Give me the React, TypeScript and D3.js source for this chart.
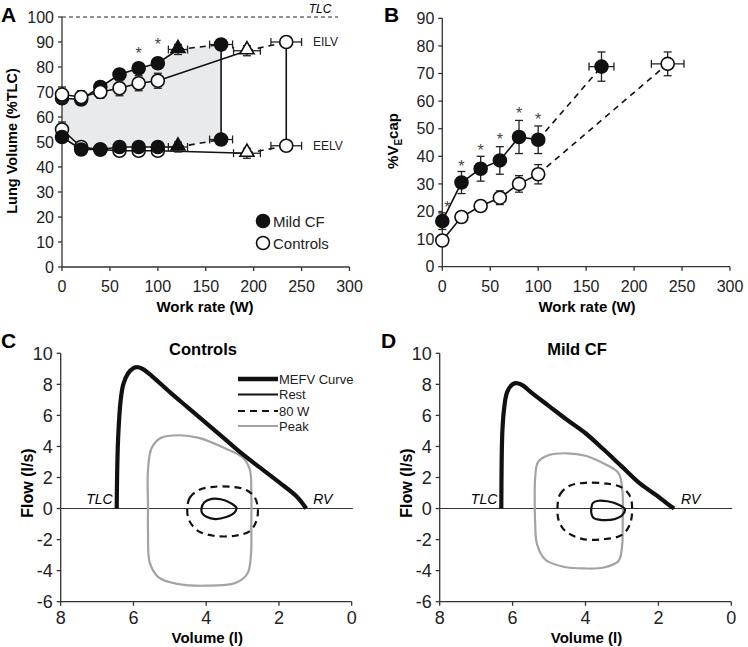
import React from 'react';
import * as d3 from 'd3';

const FONT = '"Liberation Sans", Arial, Helvetica, sans-serif';
const AX = '#333';

// ---------- Panel A data ----------
const workRates = [0, 20, 40, 60, 80, 100];
const cfEILV = [67.5, 67, 72, 77, 79.5, 81.5];
const cfEILVErr = [1.5, 1.5, 1.5, 1.5, 2, 2];
const cfEELV = [52, 47, 47, 48, 48, 48];
const cfEELVErr = [1.5, 1, 1, 1.5, 1.5, 1.5];
const ctlEILV = [69, 68, 70, 71.5, 73.5, 74.5];
const ctlEILVErr = [3, 2.5, 2.5, 3, 3, 3];
const ctlEELV = [55, 48, 47, 46.5, 46.5, 46.5];
const ctlEELVErr = [3, 1.5, 1.5, 1.5, 1.5, 1.5];
const cfTriW = [121, 10];
const cfTriVol = [87, 48];
const ctlTriW = [193, 14];
const ctlTriVol = [86.5, 45.5];
const cfPeakW = [166, 12];
const cfPeakVol = [89, 51];
const ctlPeakW = [234, 16];
const ctlPeakVol = [90, 48.5];
const aStars = [[80, 86], [100, 89.5]];
const aYTicks = d3.range(0, 101, 10);
const aXTicks = d3.range(0, 301, 50);

// ---------- Panel B data ----------
const cfVEcap = [16.5, 30.5, 35.5, 38.5, 47, 46];
const cfVEcapErr = [3, 4, 4.5, 5, 6, 5];
const ctlVEcap = [9.5, 18, 22, 25, 30, 33.5];
const ctlVEcapErr = [1, 1.5, 1.5, 2.5, 3, 3.5];
const cfVEcapPeak = [166, 13, 72.5, 5.3];
const ctlVEcapPeak = [235, 17, 73.5, 4.3];
const bStarY = [22, 37, 42.5, 46.5, 56, 54];
const bYTicks = d3.range(0, 91, 10);

// ---------- Panels C/D data (volume l, flow l/s) ----------
const ctlMEFV = [[6.46, 0], [6.45, 2], [6.43, 4], [6.4, 5.5], [6.35, 7], [6.28, 8], [6.15, 8.7], [6.0, 9.05], [5.87, 9.1], [5.75, 9.0], [5.5, 8.55], [5, 7.5], [4.5, 6.5], [4, 5.5], [3.5, 4.5], [3, 3.5], [2.5, 2.6], [2, 1.7], [1.5, 0.75], [1.25, 0]];
const ctlRest = [[4.13, 0], [4.05, 0.4], [3.85, 0.62], [3.6, 0.6], [3.35, 0.38], [3.17, 0.05], [3.22, -0.25], [3.45, -0.55], [3.75, -0.68], [3.98, -0.55], [4.11, -0.3]];
const ctl80W = [[4.52, 0], [4.45, 0.7], [4.2, 1.2], [3.8, 1.4], [3.3, 1.4], [2.9, 1.2], [2.66, 0.7], [2.58, 0], [2.62, -0.8], [2.8, -1.45], [3.2, -1.75], [3.8, -1.75], [4.25, -1.4], [4.48, -0.7]];
const ctlPeak = [[5.6, 0], [5.6, 2.5], [5.5, 3.9], [5.25, 4.55], [4.75, 4.72], [4.2, 4.55], [3.5, 3.9], [3.0, 3.3], [2.8, 2.5], [2.76, 1], [2.76, -1], [2.77, -3], [2.87, -4.2], [3.2, -4.8], [4.0, -4.97], [4.8, -4.85], [5.3, -4.45], [5.55, -3.5], [5.6, -1.5]];
const cfMEFV = [[6.31, 0], [6.3, 3], [6.28, 5], [6.23, 6.5], [6.15, 7.5], [6.0, 8.0], [5.87, 8.07], [5.7, 7.9], [5.5, 7.5], [5, 6.6], [4.5, 5.7], [4, 4.85], [3.5, 3.8], [3, 2.7], [2.5, 1.6], [2, 0.76], [1.75, 0.3], [1.57, 0]];
const cfRest = [[3.84, 0], [3.8, 0.35], [3.65, 0.5], [3.4, 0.47], [3.12, 0.28], [2.92, -0.05], [3.0, -0.45], [3.2, -0.68], [3.55, -0.74], [3.78, -0.6], [3.84, -0.3]];
const cf80W = [[4.77, 0], [4.7, 0.9], [4.45, 1.45], [4.0, 1.66], [3.4, 1.6], [3.0, 1.35], [2.78, 0.8], [2.72, 0], [2.78, -1.0], [3.0, -1.7], [3.5, -1.97], [4.1, -1.95], [4.55, -1.45], [4.73, -0.8]];
const cfPeak = [[5.39, 0], [5.38, 2.0], [5.3, 3.0], [5.0, 3.45], [4.5, 3.56], [4.0, 3.4], [3.5, 2.9], [3.1, 2.3], [2.99, 1.2], [2.98, -1], [3.0, -2.5], [3.1, -3.4], [3.5, -3.8], [4.0, -3.86], [4.6, -3.75], [5.1, -3.3], [5.33, -2.3], [5.38, -1]];
const flowTicks = d3.range(-6, 11, 2);
const volTicks = [8, 6, 4, 2, 0];
const legendItems = ['MEFV Curve', 'Rest', '80 W', 'Peak'];

function VBar({ x, y1, y2, cap = 4 }) {
  return (
    <g stroke="#222" strokeWidth={1.3}>
      <line x1={x} x2={x} y1={y1} y2={y2} />
      <line x1={x - cap} x2={x + cap} y1={y1} y2={y1} />
      <line x1={x - cap} x2={x + cap} y1={y2} y2={y2} />
    </g>
  );
}
function HBar({ y, x1, x2, cap = 4 }) {
  return (
    <g stroke="#222" strokeWidth={1.3}>
      <line x1={x1} x2={x2} y1={y} y2={y} />
      <line x1={x1} x2={x1} y1={y - cap} y2={y + cap} />
      <line x1={x2} x2={x2} y1={y - cap} y2={y + cap} />
    </g>
  );
}

function Axes({ x, y, xTicks, yTicks, fs, xLabelY }) {
  const [x0, x1] = x.range();
  const [y0, y1] = y.range();
  return (
    <g fontFamily={FONT} fontSize={fs} fill="#222">
      <line x1={x0} x2={x0} y1={y0} y2={y1} stroke={AX} strokeWidth={1.3} />
      <line x1={x0} x2={x1} y1={y0} y2={y0} stroke={AX} strokeWidth={1.3} />
      {yTicks.map((t) => (
        <g key={'y' + t}>
          <line x1={x0 - 4} x2={x0} y1={y(t)} y2={y(t)} stroke={AX} strokeWidth={1.3} />
          <text x={x0 - 8} y={y(t) + fs * 0.36} textAnchor="end">{t}</text>
        </g>
      ))}
      {xTicks.map((t) => (
        <g key={'x' + t}>
          <line x1={x(t)} x2={x(t)} y1={y0} y2={y0 + 4} stroke={AX} strokeWidth={1.3} />
          <text x={x(t)} y={xLabelY} textAnchor="middle">{t}</text>
        </g>
      ))}
    </g>
  );
}

function PanelA() {
  const x = d3.scaleLinear().domain([0, 300]).range([62, 349.5]);
  const y = d3.scaleLinear().domain([0, 100]).range([267, 17]);
  const line = d3.line().x((d) => x(d[0])).y((d) => y(d[1]));
  const shade = [
    ...workRates.map((w, i) => [w, cfEILV[i]]),
    [cfTriW[0], cfTriVol[0]],
    [cfPeakW[0], cfPeakVol[0]],
    [cfPeakW[0], cfPeakVol[1]],
    [cfTriW[0], cfTriVol[1]],
    ...workRates.map((w, i) => [w, cfEELV[i]]).reverse(),
  ];
  const tri = d3.symbol(d3.symbolTriangle, 85)();
  const r = 6.5;
  const series = [
    { v: cfEILV, e: cfEILVErr, tri: [cfTriW, cfTriVol[0]], pk: [cfPeakW, cfPeakVol[0]], fill: '#111' },
    { v: ctlEILV, e: ctlEILVErr, tri: [ctlTriW, ctlTriVol[0]], pk: [ctlPeakW, ctlPeakVol[0]], fill: '#fff' },
    { v: ctlEELV, e: ctlEELVErr, tri: [ctlTriW, ctlTriVol[1]], pk: [ctlPeakW, ctlPeakVol[1]], fill: '#fff' },
    { v: cfEELV, e: cfEELVErr, tri: [cfTriW, cfTriVol[1]], pk: [cfPeakW, cfPeakVol[1]], fill: '#111' },
  ];
  return (
    <g>
      <path d={line(shade) + 'Z'} fill="#e9eaec" stroke="none" />
      <line x1={x(0)} x2={338} y1={y(100)} y2={y(100)} stroke="#222" strokeWidth={1} strokeDasharray="4,3" />
      <text x={320} y={13} fontFamily={FONT} fontStyle="italic" fontSize={12} textAnchor="middle">TLC</text>
      <Axes x={x} y={y} xTicks={aXTicks} yTicks={aYTicks} fs={16} xLabelY={292} />
      {series.map((s, k) => {
        const pts = workRates.map((w, i) => [w, s.v[i]]);
        const triP = [s.tri[0][0], s.tri[1]];
        const pkP = [s.pk[0][0], s.pk[1]];
        return (
          <g key={'l' + k} fill="none" stroke="#111" strokeWidth={1.6}>
            <path d={line([...pts, triP])} />
            <path d={line([triP, pkP])} strokeDasharray="6,5" />
          </g>
        );
      })}
      <line x1={x(cfPeakW[0])} x2={x(cfPeakW[0])} y1={y(cfPeakVol[0])} y2={y(cfPeakVol[1])} stroke="#111" strokeWidth={1.6} />
      <line x1={x(ctlPeakW[0])} x2={x(ctlPeakW[0])} y1={y(ctlPeakVol[0])} y2={y(ctlPeakVol[1])} stroke="#111" strokeWidth={1.6} />
      {series.map((s, k) => (
        <g key={'m' + k}>
          {workRates.map((w, i) => (
            <g key={i}>
              <VBar x={x(w)} y1={y(s.v[i] + s.e[i])} y2={y(s.v[i] - s.e[i])} />
              <circle cx={x(w)} cy={y(s.v[i])} r={r} fill={s.fill} stroke="#111" strokeWidth={1.6} />
            </g>
          ))}
          <HBar y={y(s.tri[1])} x1={x(s.tri[0][0] - s.tri[0][1])} x2={x(s.tri[0][0] + s.tri[0][1])} />
          <VBar x={x(s.tri[0][0])} y1={y(s.tri[1] + 2)} y2={y(s.tri[1] - 2)} />
          <path d={tri} transform={`translate(${x(s.tri[0][0])},${y(s.tri[1]) - 1})`} fill={s.fill} stroke="#111" strokeWidth={1.6} />
          <HBar y={y(s.pk[1])} x1={x(s.pk[0][0] - s.pk[0][1])} x2={x(s.pk[0][0] + s.pk[0][1])} />
          <VBar x={x(s.pk[0][0])} y1={y(s.pk[1] + 2)} y2={y(s.pk[1] - 2)} />
          <circle cx={x(s.pk[0][0])} cy={y(s.pk[1])} r={r} fill={s.fill} stroke="#111" strokeWidth={1.6} />
        </g>
      ))}
      {aStars.map((s, i) => (
        <text key={i} x={x(s[0])} y={y(s[1]) + 7} fontFamily={FONT} fontSize={16} fill="#444" textAnchor="middle">*</text>
      ))}
      <g fontFamily={FONT} fontSize={12} fill="#222">
        <text x={313} y={y(ctlPeakVol[0]) + 4}>EILV</text>
        <text x={313} y={y(ctlPeakVol[1]) + 4}>EELV</text>
      </g>
      <circle cx={263} cy={221} r={r} fill="#111" stroke="#111" strokeWidth={1.6} />
      <circle cx={263} cy={243} r={r} fill="#fff" stroke="#111" strokeWidth={1.6} />
      <g fontFamily={FONT} fontSize={15} fill="#222">
        <text x={273} y={226.5}>Mild CF</text>
        <text x={273} y={248.5}>Controls</text>
      </g>
      <text x={205} y={312} fontFamily={FONT} fontSize={15} fontWeight="bold" textAnchor="middle">Work rate (W)</text>
      <text transform="translate(17,141) rotate(-90)" fontFamily={FONT} fontSize={14.5} fontWeight="bold" textAnchor="middle">Lung Volume (%TLC)</text>
      <text x={1} y={22} fontFamily={FONT} fontSize={21} fontWeight="bold">A</text>
    </g>
  );
}

function PanelB() {
  const x = d3.scaleLinear().domain([0, 300]).range([442.3, 730]);
  const y = d3.scaleLinear().domain([0, 90]).range([266.7, 18.3]);
  const line = d3.line().x((d) => x(d[0])).y((d) => y(d[1]));
  const r = 6.5;
  const groups = [
    { v: ctlVEcap, e: ctlVEcapErr, pk: ctlVEcapPeak, fill: '#fff' },
    { v: cfVEcap, e: cfVEcapErr, pk: cfVEcapPeak, fill: '#111' },
  ];
  return (
    <g>
      <Axes x={x} y={y} xTicks={aXTicks} yTicks={bYTicks} fs={16} xLabelY={292} />
      {groups.map((g, k) => {
        const pts = workRates.map((w, i) => [w, g.v[i]]);
        return (
          <g key={k}>
            <path d={line(pts)} fill="none" stroke="#111" strokeWidth={1.6} />
            <path d={line([pts[pts.length - 1], [g.pk[0], g.pk[2]]])} fill="none" stroke="#111" strokeWidth={1.6} strokeDasharray="6,5" />
            {workRates.map((w, i) => (
              <g key={i}>
                <VBar x={x(w)} y1={y(g.v[i] + g.e[i])} y2={y(g.v[i] - g.e[i])} />
                <circle cx={x(w)} cy={y(g.v[i])} r={r} fill={g.fill} stroke="#111" strokeWidth={1.6} />
              </g>
            ))}
            <HBar y={y(g.pk[2])} x1={x(g.pk[0] - g.pk[1])} x2={x(g.pk[0] + g.pk[1])} />
            <VBar x={x(g.pk[0])} y1={y(g.pk[2] + g.pk[3])} y2={y(g.pk[2] - g.pk[3])} />
            <circle cx={x(g.pk[0])} cy={y(g.pk[2])} r={r} fill={g.fill} stroke="#111" strokeWidth={1.6} />
          </g>
        );
      })}
      {workRates.map((w, i) => (
        <text key={i} x={x(w) + (i === 0 ? 5 : 0)} y={y(bStarY[i]) + 7} fontFamily={FONT} fontSize={16} fill="#444" textAnchor="middle">*</text>
      ))}
      <text x={587} y={312} fontFamily={FONT} fontSize={15} fontWeight="bold" textAnchor="middle">Work rate (W)</text>
      <text transform="translate(398,141) rotate(-90)" fontFamily={FONT} fontSize={15} fontWeight="bold" textAnchor="middle">
        %V<tspan fontSize={10} dy={4}>E</tspan><tspan dy={-4}>cap</tspan>
      </text>
      <text x={384} y={22} fontFamily={FONT} fontSize={21} fontWeight="bold">B</text>
    </g>
  );
}

function FlowPanel({ left, right, mefv, rest, w80, peak, title, letter, ox }) {
  const x = d3.scaleLinear().domain([8, 0]).range([left, right]);
  const y = d3.scaleLinear().domain([-6, 10]).range([601.7, 353.3]);
  const open = d3.line().x((d) => x(d[0])).y((d) => y(d[1])).curve(d3.curveCatmullRom.alpha(0.5));
  const closed = d3.line().x((d) => x(d[0])).y((d) => y(d[1])).curve(d3.curveCatmullRomClosed.alpha(0.5));
  return (
    <g>
      <Axes x={x} y={y} xTicks={volTicks} yTicks={flowTicks} fs={18} xLabelY={624} />
      <line x1={left} x2={right + 1} y1={y(0)} y2={y(0)} stroke="#333" strokeWidth={1.1} />
      <path d={closed(peak)} fill="none" stroke="#a3a3a3" strokeWidth={2.2} />
      <path d={closed(w80)} fill="none" stroke="#111" strokeWidth={2.2} strokeDasharray="7,5" />
      <path d={closed(rest)} fill="none" stroke="#111" strokeWidth={2.2} />
      <path d={open(mefv)} fill="none" stroke="#111" strokeWidth={4.2} strokeLinejoin="round" />
      <text x={x(mefv[0][0]) - 4} y={y(0) - 5} fontFamily={FONT} fontStyle="italic" fontSize={14} textAnchor="end">TLC</text>
      <text x={x(mefv[mefv.length - 1][0]) + 7} y={y(0) - 5} fontFamily={FONT} fontStyle="italic" fontSize={14}>RV</text>
      <text x={ox + 203} y={355} fontFamily={FONT} fontSize={16.5} fontWeight="bold" textAnchor="middle">{title}</text>
      <text x={(left + right) / 2 + 1} y={643} fontFamily={FONT} fontSize={15} fontWeight="bold" textAnchor="middle">Volume (l)</text>
      <text transform={`translate(${left - 28},483) rotate(-90)`} fontFamily={FONT} fontSize={16} fontWeight="bold" textAnchor="middle">Flow (l/s)</text>
      <text x={ox + (letter === 'D' ? 7 : 1)} y={348} fontFamily={FONT} fontSize={21} fontWeight="bold">{letter}</text>
    </g>
  );
}

function LegendC() {
  const ys = [379, 394.5, 411, 426];
  const styles = [
    { w: 4.5, c: '#111', d: undefined },
    { w: 2, c: '#111', d: undefined },
    { w: 2.2, c: '#111', d: '7,5' },
    { w: 2.2, c: '#a3a3a3', d: undefined },
  ];
  return (
    <g>
      {legendItems.map((t, i) => (
        <g key={t}>
          <line x1={238} x2={278} y1={ys[i]} y2={ys[i]} stroke={styles[i].c} strokeWidth={styles[i].w} strokeDasharray={styles[i].d} />
          <text x={279} y={ys[i] + 4.5} fontFamily={FONT} fontSize={13} fill="#222">{t}</text>
        </g>
      ))}
    </g>
  );
}

export default function App() {
  return (
    <svg width={748} height={647} viewBox="0 0 748 647" style={{ position: 'absolute', left: 0, top: 0, background: '#fff' }}>
      <rect width={748} height={647} fill="#fff" />
      <PanelA />
      <PanelB />
      <FlowPanel left={60.7} right={351.7} mefv={ctlMEFV} rest={ctlRest} w80={ctl80W} peak={ctlPeak} title="Controls" letter="C" ox={0} />
      <LegendC />
      <FlowPanel left={439.7} right={731.3} mefv={cfMEFV} rest={cfRest} w80={cf80W} peak={cfPeak} title="Mild CF" letter="D" ox={374} />
    </svg>
  );
}
